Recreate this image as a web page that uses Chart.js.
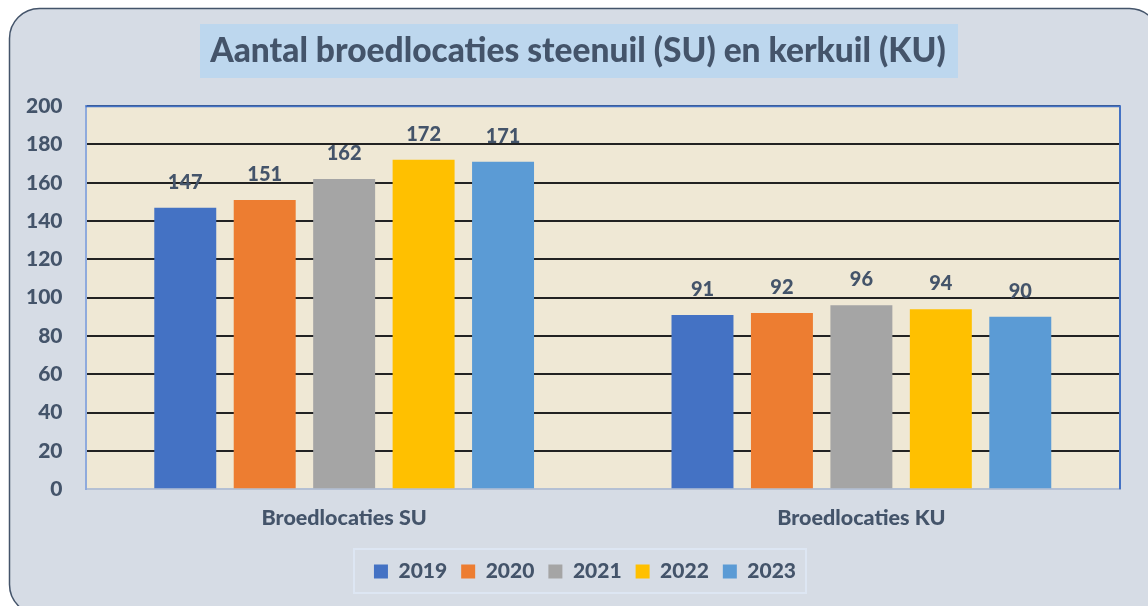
<!DOCTYPE html>
<html>
<head>
<meta charset="utf-8">
<script src="https://cdn.jsdelivr.net/npm/chart.js@4"></script>
<style>
  html, body { margin: 0; padding: 0; background: #ffffff; }
  #wrap { width: 1148px; height: 606px; }
</style>
</head>
<body>
<div id="wrap"><canvas id="canvasDiv" width="1148" height="606"></canvas></div>
<script>
//data
const categories = ["Broedlocaties SU", "Broedlocaties KU"];
const years = ["2019", "2020", "2021", "2022", "2023"];
const values2019 = [147, 91];
const values2020 = [151, 92];
const values2021 = [162, 96];
const values2022 = [172, 94];
const values2023 = [171, 90];
const yearColors = ["#4472c4", "#ed7d31", "#a5a5a5", "#ffc000", "#5b9bd5"];
const titleText = "Aantal broedlocaties steenuil (SU) en kerkuil (KU)";

const textColor = "#44546a";
const fontName = "Lato, 'Open Sans', sans-serif";
const heavy = "900";

//background: rounded panel, title box, plot fill
const panelPlugin = {
  id: "panel",
  afterLayout(chart) {
    //title and legend are centred on the whole frame, not the plot
    const t = chart.titleBlock;
    const dt = 578 - (t.left + t.right) / 2;
    t.left += dt;
    t.right += dt;
    const lg = chart.legend;
    const dl = 585 - (lg.left + lg.right) / 2;
    lg.left += dl;
    lg.right += dl;
    lg.top += 8;
    lg.bottom += 8;
  },
  beforeDraw(chart) {
    const ctx = chart.ctx;
    ctx.save();
    ctx.fillStyle = "#ffffff";
    ctx.fillRect(0, 0, chart.width, chart.height);
    ctx.beginPath();
    ctx.roundRect(9.5, 8.5, 1150, 606, 30);
    ctx.fillStyle = "#d6dce5";
    ctx.fill();
    ctx.lineWidth = 1.5;
    ctx.strokeStyle = "#44546a";
    ctx.stroke();

    //title box
    ctx.fillStyle = "#bdd7ee";
    ctx.fillRect(200, 24, 758, 54);

    //legend frame
    ctx.strokeStyle = "#dde6f3";
    ctx.lineWidth = 2;
    ctx.strokeRect(354, 549, 452, 44);

    //plot area
    const a = chart.chartArea;
    ctx.fillStyle = "#efe8d5";
    ctx.fillRect(a.left, a.top, a.right - a.left, a.bottom - a.top);
    ctx.restore();
  },
  afterDraw(chart) {
    const ctx = chart.ctx;
    const a = chart.chartArea;
    ctx.save();
    //plot border top / right
    ctx.strokeStyle = "#4472c4";
    ctx.lineWidth = 2;
    ctx.beginPath();
    ctx.moveTo(a.left, a.top);
    ctx.lineTo(a.right, a.top);
    ctx.lineTo(a.right, a.bottom);
    ctx.stroke();
    ctx.restore();
  }
};

//value labels above bars
const valueLabels = {
  id: "valueLabels",
  afterDatasetsDraw(chart) {
    const ctx = chart.ctx;
    ctx.save();
    ctx.font = heavy + " 20px " + fontName;
    ctx.fillStyle = textColor;
    ctx.textAlign = "center";
    ctx.textBaseline = "alphabetic";
    chart.data.datasets.forEach((ds, i) => {
      const meta = chart.getDatasetMeta(i);
      meta.data.forEach((bar, j) => {
        ctx.fillText(ds.data[j], bar.x, bar.y - 19);
      });
    });
    ctx.restore();
  }
};

const allValues = [values2019, values2020, values2021, values2022, values2023];

var chart = new Chart(document.getElementById("canvasDiv"), {
  type: "bar",
  data: {
    labels: categories,
    datasets: years.map((y, i) => ({
      label: y,
      data: allValues[i],
      backgroundColor: yearColors[i],
      borderColor: yearColors[i],
      borderWidth: 0,
      categoryPercentage: 0.768,
      barPercentage: 0.78,
    })),
  },
  options: {
    responsive: false,
    animation: false,
    layout: { padding: { left: 3, right: 28, top: 0, bottom: 22 } },
    plugins: {
      title: {
        display: true,
        text: titleText,
        color: textColor,
        font: { family: fontName, size: 33.5, weight: heavy },
        padding: { top: 31, bottom: 35 },
      },
      legend: {
        position: "bottom",
        labels: {
          color: textColor,
          font: { family: fontName, size: 21, weight: heavy },
          boxWidth: 14,
          boxHeight: 14,
          padding: 14,
        },
      },
      tooltip: { enabled: false },
    },
    scales: {
      x: {
        grid: { display: false },
        border: { color: "#b4c0d4", width: 2 },
        ticks: {
          color: textColor,
          font: { family: fontName, size: 21.5, weight: heavy },
          padding: 8,
        },
      },
      y: {
        min: 0,
        max: 200,
        grid: { color: "#222222", lineWidth: 2, drawTicks: false },
        border: { color: "#8faadc", width: 2 },
        ticks: {
          stepSize: 20,
          color: textColor,
          font: { family: fontName, size: 21, weight: heavy },
          padding: 23,
        },
      },
    },
  },
  plugins: [panelPlugin, valueLabels],
});
</script>
</body>
</html>
